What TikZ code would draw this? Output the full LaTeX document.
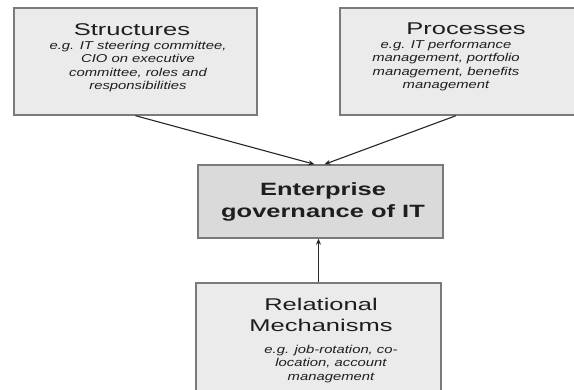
\documentclass[tikz,border=0pt]{standalone}
\usepackage{fontspec}
\setmainfont[FakeStretch=1.5]{Liberation Sans}
\newfontfamily\bodyfont[FakeStretch=1.3]{Liberation Sans}
\newfontfamily\corefont[FakeStretch=1.43]{Liberation Sans}
\usetikzlibrary{arrows.meta}
\definecolor{boxfill}{HTML}{EBEBEB}
\definecolor{corefill}{HTML}{DADADA}
\definecolor{boxline}{HTML}{7A7A7A}
\definecolor{txt}{HTML}{1E1E1E}
\begin{document}
\begin{tikzpicture}[x=1pt,y=-1pt,
  outerbox/.style={draw=boxline,line width=1.4pt,fill=boxfill,inner sep=0pt},
  corebox/.style={draw=boxline,line width=1.4pt,fill=corefill,inner sep=0pt},
  titletext/.style={text=txt,font=\fontsize{17}{21}\selectfont,align=center,inner sep=0pt},
  coretext/.style={text=txt,font=\corefont\fontsize{17.8}{21.5}\selectfont\bfseries,align=center,inner sep=0pt},
  bodytext/.style={text=txt,font=\bodyfont\fontsize{11.4}{13.2}\selectfont\itshape,align=center,inner sep=0pt},
  arr/.style={draw=black!85,line width=1.1pt,-{Stealth[length=6pt,width=5pt]}}]
\useasboundingbox (0,0) rectangle (574,390);
\fill[white] (0,0) rectangle (574,390);
% boxes
\node[outerbox,minimum width=243pt,minimum height=107pt] (s) at (135.5,61.5) {};
\node[outerbox,minimum width=246pt,minimum height=107pt] (p) at (463,61.5) {};
\node[corebox,minimum width=245pt,minimum height=73pt] (e) at (320.5,201.5) {};
\node[outerbox,minimum width=245pt,minimum height=130pt] (r) at (318.5,348) {};
% texts
\node[titletext] (st) at (132,30) {Structures};
\node[bodytext] (sb) at (138,66.5) {e.g. IT steering committee,\\CIO on executive\\committee, roles and\\responsibilities};
\node[titletext] (pt) at (466,28.5) {Processes};
\node[bodytext] (pb) at (446,65.5) {e.g. IT performance\\management, portfolio\\management, benefits\\management};
\node[coretext] (et) at (323,202) {Enterprise\\governance of IT};
\node[titletext] (rt) at (321,314.5) {Relational\\Mechanisms};
\node[bodytext] (rb) at (331,364) {e.g. job-rotation, co-\\location, account\\management};
% connectors
\draw[arr] (s.south) -- ([xshift=-6pt]e.north);
\draw[arr] ([xshift=-7pt]p.south) -- ([xshift=4pt]e.north);
\draw[arr] (r.north) -- (r.north |- e.south);
\end{tikzpicture}
\end{document}
